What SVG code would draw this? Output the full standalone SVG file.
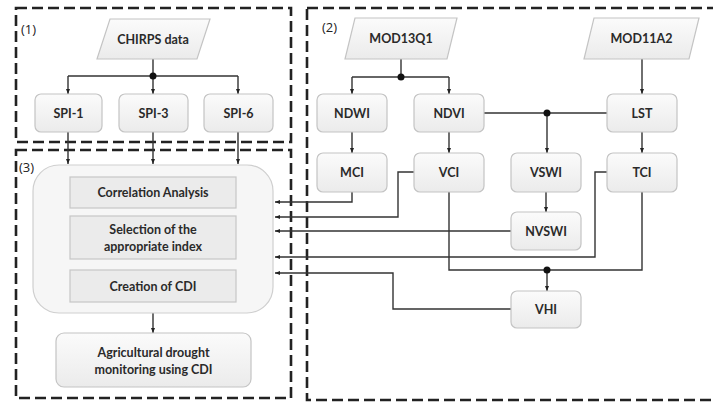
<svg xmlns="http://www.w3.org/2000/svg" width="713" height="402" viewBox="0 0 713 402">
<defs>
  <linearGradient id="g" x1="0" y1="0" x2="0" y2="1">
    <stop offset="0" stop-color="#fbfbfb"/>
    <stop offset="1" stop-color="#ebebeb"/>
  </linearGradient>
  <marker id="ah" viewBox="0 0 10 10" refX="10" refY="5" markerWidth="5" markerHeight="5" orient="auto" markerUnits="userSpaceOnUse">
    <path d="M0,1 L10,5 L0,9 z" fill="#222"/>
  </marker>
</defs>
<style>
  .region { fill: none; stroke: #222; stroke-width: 2.6; stroke-dasharray: 11 5; }
  .box { fill: url(#g); stroke: #c4c4c4; stroke-width: 1.2; }
  .inner { fill: #ebebeb; stroke: #c6c6c6; stroke-width: 1.2; }
  .big { fill: #f6f6f6; stroke: #cfcfcf; stroke-width: 1.2; }
  .t { font-family: Lato, "Liberation Sans", sans-serif; font-weight: bold; font-size: 12.5px; fill: #2a2a2a; text-anchor: middle; dominant-baseline: central; }
  .lbl { font-family: "Open Sans", "Liberation Sans", sans-serif; font-size: 13px; fill: #222; }
  .c { fill: none; stroke: #333; stroke-width: 1.4; }
  .a { marker-end: url(#ah); }
  .dot { fill: #111; }
</style>

<g id="regions">
  <rect class="region" x="16" y="8" width="275" height="134"/>
  <rect class="region" x="16" y="150" width="275" height="248"/>
  <rect class="region" x="307" y="8" width="430" height="392"/>
  <text class="lbl" x="21" y="34">(1)</text>
  <text class="lbl" x="19" y="172">(3)</text>
  <text class="lbl" x="322" y="32">(2)</text>
</g>

<g id="connectors">
  <path class="c" d="M153,59 V76"/>
  <path class="c" d="M68,76 H238"/>
  <path class="c a" d="M68,76 V94"/>
  <path class="c a" d="M153,76 V94"/>
  <path class="c a" d="M238,76 V94"/>
  <circle class="dot" cx="153" cy="76" r="3.5"/>
  <path class="c a" d="M68,132 V164"/>
  <path class="c a" d="M153,132 V164"/>
  <path class="c a" d="M238,132 V164"/>
  <path class="c a" d="M153,313 V333"/>
  <path class="c" d="M401,59 V77"/>
  <path class="c" d="M352,77 H449"/>
  <path class="c a" d="M352,77 V94"/>
  <path class="c a" d="M449,77 V94"/>
  <circle class="dot" cx="401" cy="77" r="3.5"/>
  <path class="c a" d="M642,59 V94"/>
  <path class="c" d="M484,113 H607"/>
  <path class="c a" d="M547,113 V153"/>
  <circle class="dot" cx="547" cy="113" r="3.5"/>
  <path class="c a" d="M352,132 V153"/>
  <path class="c a" d="M449,132 V153"/>
  <path class="c a" d="M642,132 V153"/>
  <path class="c a" d="M546,192 V212"/>
  <path class="c" d="M449,192 V270 H642 V192"/>
  <path class="c a" d="M547,270 V291"/>
  <circle class="dot" cx="547" cy="270" r="3.5"/>
  <path class="c a" d="M352,192 V202 H275"/>
  <path class="c a" d="M414,172 H398 V217 H275"/>
  <path class="c a" d="M511,231 H275"/>
  <path class="c a" d="M607,172 H595 V257 H275"/>
  <path class="c a" d="M511,309 H393 V273 H275"/>
</g>

<g id="chirps">
  <polygon class="box" points="110,19 210,19 197,59 97,59"/>
  <text class="t" x="153" y="39">CHIRPS data</text>
</g>
<g id="spi1">
  <rect class="box" x="35" y="94" width="67" height="38" rx="6"/>
  <text class="t" x="68.5" y="113">SPI-1</text>
</g>
<g id="spi3">
  <rect class="box" x="119" y="94" width="69" height="38" rx="6"/>
  <text class="t" x="153.5" y="113">SPI-3</text>
</g>
<g id="spi6">
  <rect class="box" x="204" y="94" width="69" height="38" rx="6"/>
  <text class="t" x="238.5" y="113">SPI-6</text>
</g>

<g id="analysis">
  <rect class="big" x="33" y="165" width="240" height="148" rx="26"/>
  <g id="correlation">
    <rect class="inner" x="70" y="177" width="166" height="31"/>
    <text class="t" x="153" y="192.5">Correlation  Analysis</text>
  </g>
  <g id="selection">
    <rect class="inner" x="70" y="216" width="166" height="43"/>
    <text class="t" x="153" y="229.5">Selection of the</text>
    <text class="t" x="153" y="246.5">appropriate index</text>
  </g>
  <g id="creation">
    <rect class="inner" x="70" y="270" width="166" height="32"/>
    <text class="t" x="153" y="286">Creation of CDI</text>
  </g>
</g>

<g id="monitoring">
  <rect class="box" x="56" y="333" width="195" height="54" rx="8"/>
  <text class="t" x="153.5" y="352">Agricultural drought</text>
  <text class="t" x="153.5" y="369">monitoring using CDI</text>
</g>

<g id="mod13q1">
  <polygon class="box" points="355,18 457,18 447,59 345,59"/>
  <text class="t" x="401" y="38.5">MOD13Q1</text>
</g>
<g id="mod11a2">
  <polygon class="box" points="594,18 699,18 689,59 584,59"/>
  <text class="t" x="641.5" y="38.5">MOD11A2</text>
</g>
<g id="ndwi">
  <rect class="box" x="317" y="94" width="70" height="38" rx="6"/>
  <text class="t" x="352" y="113">NDWI</text>
</g>
<g id="ndvi">
  <rect class="box" x="414" y="94" width="70" height="38" rx="6"/>
  <text class="t" x="449" y="113">NDVI</text>
</g>
<g id="lst">
  <rect class="box" x="607" y="94" width="70" height="38" rx="6"/>
  <text class="t" x="642" y="113">LST</text>
</g>
<g id="mci">
  <rect class="box" x="317" y="153" width="70" height="39" rx="6"/>
  <text class="t" x="352" y="172.5">MCI</text>
</g>
<g id="vci">
  <rect class="box" x="414" y="153" width="70" height="39" rx="6"/>
  <text class="t" x="449" y="172.5">VCI</text>
</g>
<g id="vswi">
  <rect class="box" x="511" y="153" width="70" height="39" rx="6"/>
  <text class="t" x="546" y="172.5">VSWI</text>
</g>
<g id="tci">
  <rect class="box" x="607" y="153" width="70" height="39" rx="6"/>
  <text class="t" x="642" y="172.5">TCI</text>
</g>
<g id="nvswi">
  <rect class="box" x="511" y="212" width="70" height="38" rx="6"/>
  <text class="t" x="546" y="231">NVSWI</text>
</g>
<g id="vhi">
  <rect class="box" x="511" y="291" width="70" height="37" rx="6"/>
  <text class="t" x="546" y="309.5">VHI</text>
</g>
</svg>
